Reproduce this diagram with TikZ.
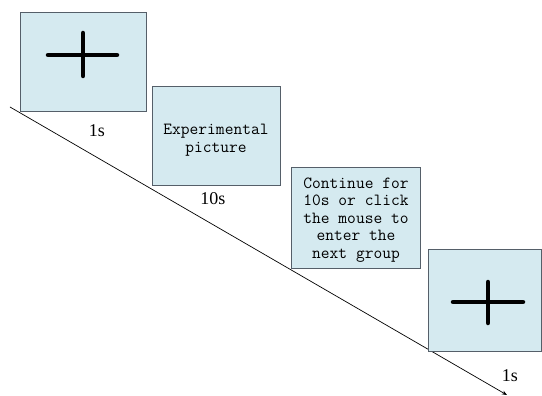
\documentclass[tikz,border=0pt]{standalone}
\usepackage{fontspec}
\setmainfont{Liberation Serif}
\usetikzlibrary{arrows.meta}
\definecolor{boxfill}{RGB}{213,234,240}
\definecolor{boxline}{RGB}{85,95,105}
\begin{document}
\begin{tikzpicture}[x=1pt,y=-1pt,
  screen/.style={draw=boxline,fill=boxfill,line width=1pt,anchor=north west,inner sep=0pt,outer sep=0pt},
  crossline/.style={line width=4.5pt,line cap=round,draw=black},
  timelabel/.style={font=\fontsize{18}{18}\selectfont,inner sep=0pt},
  boxtext/.style={font=\ttfamily\fontsize{17}{17.5}\selectfont,align=center,inner sep=0pt},
  timeline/.style={line width=0.7pt,-{Stealth[length=5pt,width=4pt]}}]
\useasboundingbox (0,0) rectangle (542,396);
\coordinate (start) at (10,107);
\coordinate (end) at (507,395);
\draw[timeline] (start) -- (end);
\node[screen,minimum width=126pt,minimum height=99pt] (s1) at (20,13) {};
\node[screen,minimum width=128pt,minimum height=99pt] (s2) at (152,87) {};
\node[screen,minimum width=129pt,minimum height=100pt] (s3) at (291,168) {};
\node[screen,minimum width=113pt,minimum height=101pt] (s4) at (428,250) {};
\coordinate (c1h1) at (48,55); \coordinate (c1h2) at (117,55);
\coordinate (c1v1) at (83,33); \coordinate (c1v2) at (83,76);
\draw[crossline] (c1h1) -- (c1h2);
\draw[crossline] (c1v1) -- (c1v2);
\coordinate (c4h1) at (453,302); \coordinate (c4h2) at (523,302);
\coordinate (c4v1) at (488,282); \coordinate (c4v2) at (488,323);
\draw[crossline] (c4h1) -- (c4h2);
\draw[crossline] (c4v1) -- (c4v2);
\node[boxtext] (t2) at (216,140) {Experimental\\picture};
\node[boxtext] (t3) at (356,220) {Continue for\\10s or click\\the mouse to\\enter the\\next group};
\node[timelabel] (l1) at (97,131) {1s};
\node[timelabel] (l2) at (213,199) {10s};
\node[timelabel] (l4) at (510,376) {1s};
\end{tikzpicture}
\end{document}
